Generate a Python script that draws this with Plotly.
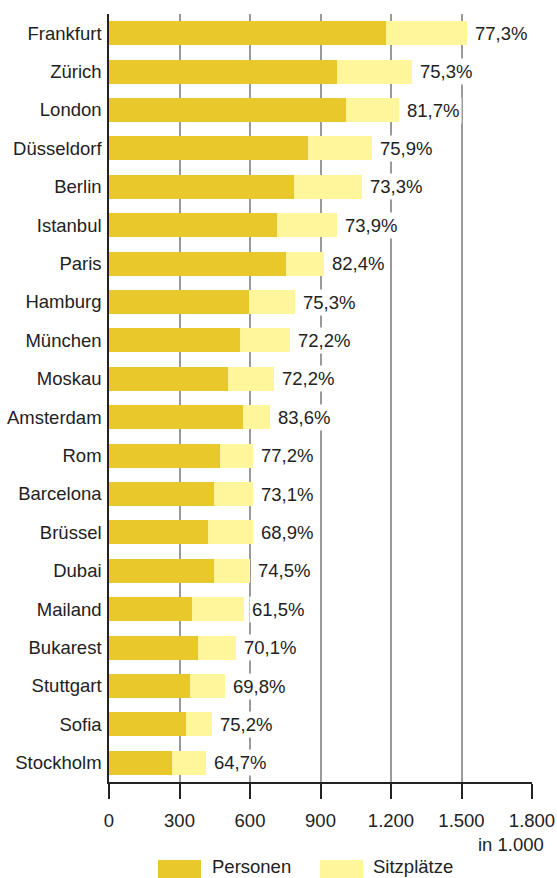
import plotly.graph_objects as go

# Flughäfen, von oben nach unten
staedte = ["Frankfurt", "Zürich", "London", "Düsseldorf", "Berlin", "Istanbul", "Paris",
           "Hamburg", "München", "Moskau", "Amsterdam", "Rom", "Barcelona", "Brüssel",
           "Dubai", "Mailand", "Bukarest", "Stuttgart", "Sofia", "Stockholm"]

# Werte in 1.000
personen = [1180, 971, 1010, 848, 788, 716, 754, 596, 558, 507, 571, 473, 447, 422,
            447, 354, 379, 345, 328, 268]
sitzplaetze = [1525, 1291, 1236, 1117, 1075, 969, 915, 792, 771, 703, 684, 613, 612, 612,
               600, 575, 541, 494, 437, 413]

# Auslastung (Beschriftung)
auslastung = ["77,3%", "75,3%", "81,7%", "75,9%", "73,3%", "73,9%", "82,4%", "75,3%",
              "72,2%", "72,2%", "83,6%", "77,2%", "73,1%", "68,9%", "74,5%", "61,5%",
              "70,1%", "69,8%", "75,2%", "64,7%"]

farbe_personen = "#E8C82A"
farbe_sitze = "#FFF59A"
schrift = dict(family="Liberation Sans, Arial, sans-serif", size=18.5, color="#222222")

fig = go.Figure()

fig.add_trace(go.Bar(y=staedte, x=sitzplaetze, orientation="h", name="Sitzplätze",
                     marker=dict(color=farbe_sitze, line=dict(width=0)), width=0.625,
                     showlegend=False))
fig.add_trace(go.Bar(y=staedte, x=personen, orientation="h", name="Personen",
                     marker=dict(color=farbe_personen, line=dict(width=0)), width=0.625,
                     showlegend=False))

# Prozentwerte mit weißem Hintergrund (unterbricht Gitterlinien)
for stadt, s, txt in zip(staedte, sitzplaetze, auslastung):
    fig.add_annotation(x=s, y=stadt, xref="x", yref="y", text=txt, showarrow=False,
                       xanchor="left", xshift=5, bgcolor="white", borderpad=2,
                       font=schrift)

# "in 1.000"
fig.add_annotation(x=1.033, y=-0.082, xref="paper", yref="paper", text="in 1.000",
                   showarrow=False, xanchor="right", yanchor="middle", font=schrift)

# Legende von Hand
legende = [("Personen", farbe_personen, 0.1158, 0.2175, 0.2410),
           ("Sitzplätze", farbe_sitze, 0.4988, 0.6005, 0.6217)]
for name, farbe, x0, x1, xt in legende:
    fig.add_shape(type="rect", xref="paper", yref="paper", x0=x0, x1=x1,
                  y0=-0.1276, y1=-0.1016, fillcolor=farbe, line=dict(width=0))
    fig.add_annotation(x=xt, y=-0.1094, xref="paper", yref="paper", text=name,
                       showarrow=False, xanchor="left", yanchor="middle", font=schrift,
                       borderpad=0)

fig.update_layout(
    width=557, height=878,
    margin=dict(l=109, r=25, t=14, b=96),
    barmode="overlay",
    bargap=0,
    plot_bgcolor="white",
    paper_bgcolor="white",
    separators=",.",
    font=schrift,
    showlegend=False,
)

fig.update_xaxes(
    range=[0, 1800], tickvals=[0, 300, 600, 900, 1200, 1500, 1800], tickformat=",d",
    showgrid=True, gridcolor="#9a9a9a", gridwidth=1.5,
    showline=True, linecolor="#222222", linewidth=1.5,
    ticks="outside", ticklen=15, tickwidth=1.5, tickcolor="#222222",
    ticklabelstandoff=6, zeroline=False, fixedrange=True, automargin=False,
)
fig.update_yaxes(
    categoryorder="array", categoryarray=staedte, range=[19.5, -0.5],
    showline=True, linecolor="#222222", linewidth=1.5,
    showgrid=False, ticks="", ticklabelstandoff=2, fixedrange=True, automargin=False,
)

# Seitenrand des Browsers entfernen
fig.write_html("out.html", config={"displayModeBar": False},
               post_script="document.body.style.margin='0';")
